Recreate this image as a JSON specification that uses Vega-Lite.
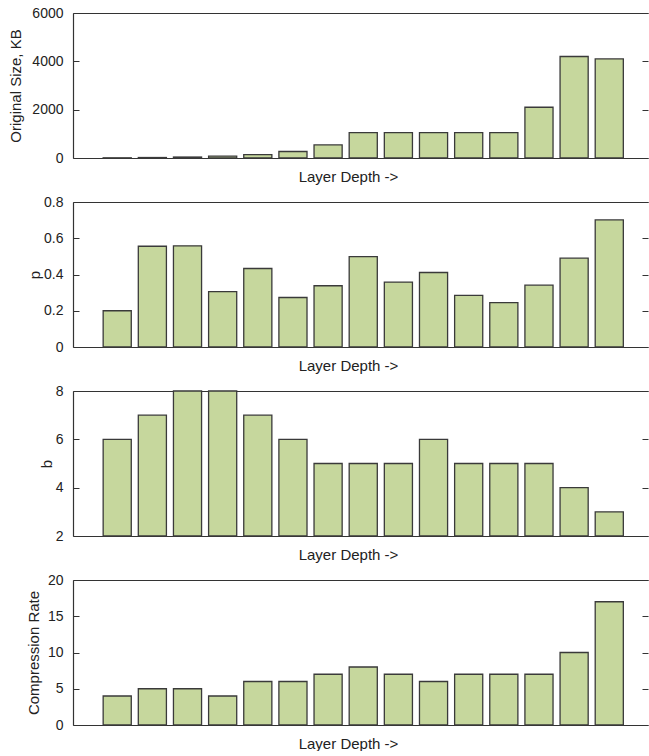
{
  "$schema": "https://vega.github.io/schema/vega-lite/v6.json",
  "padding": {"left": 8, "top": 6, "right": 0, "bottom": 0},
  "background": "white",
  "spacing": 11,
  "config": {
    "font": "Liberation Sans",
    "view": {"stroke": null},
    "axis": {
      "labelFont": "Liberation Sans",
      "titleFont": "Liberation Sans",
      "labelFontSize": 14,
      "titleFontSize": 15,
      "titleFontWeight": "normal",
      "labelColor": "#222222",
      "titleColor": "#222222",
      "domainColor": "#333333",
      "tickColor": "#333333",
      "domainWidth": 1.2,
      "tickWidth": 1,
      "grid": false
    },
    "bar": {"fill": "#c6d79d", "stroke": "#3a3a3a", "strokeWidth": 1.3}
  },
  "datasets": {
    "layers": [
      {"layer": 1, "size": 8, "p": 0.2, "b": 6, "rate": 4},
      {"layer": 2, "size": 20, "p": 0.556, "b": 7, "rate": 5},
      {"layer": 3, "size": 40, "p": 0.558, "b": 8, "rate": 5},
      {"layer": 4, "size": 75, "p": 0.305, "b": 8, "rate": 4},
      {"layer": 5, "size": 140, "p": 0.433, "b": 7, "rate": 6},
      {"layer": 6, "size": 270, "p": 0.273, "b": 6, "rate": 6},
      {"layer": 7, "size": 540, "p": 0.338, "b": 5, "rate": 7},
      {"layer": 8, "size": 1050, "p": 0.499, "b": 5, "rate": 8},
      {"layer": 9, "size": 1050, "p": 0.358, "b": 5, "rate": 7},
      {"layer": 10, "size": 1050, "p": 0.411, "b": 6, "rate": 6},
      {"layer": 11, "size": 1050, "p": 0.285, "b": 5, "rate": 7},
      {"layer": 12, "size": 1050, "p": 0.245, "b": 5, "rate": 7},
      {"layer": 13, "size": 2100, "p": 0.341, "b": 5, "rate": 7},
      {"layer": 14, "size": 4200, "p": 0.49, "b": 4, "rate": 10},
      {"layer": 15, "size": 4100, "p": 0.701, "b": 3, "rate": 17}
    ]
  },
  "vconcat": [
    {
      "width": 575,
      "height": 145,
      "data": {"name": "layers"},
      "layer": [
        {
          "mark": {"type": "bar"},
          "encoding": {
            "x": {"field": "layer", "type": "ordinal",
              "scale": {"paddingInner": 0.2, "paddingOuter": 0.78, "align": 0.55},
              "axis": {"orient": "bottom", "labels": false, "ticks": false, "title": "Layer Depth ->", "titlePadding": 11, "titleX": 275}},
            "y": {"field": "size", "type": "quantitative",
              "scale": {"domain": [0, 6000], "nice": false},
              "axis": {"orient": "left", "values": [0, 2000, 4000, 6000], "format": "d", "tickSize": -6, "labelPadding": 16, "titlePadding": 8, "title": "Original Size, KB"}}
          }
        },
        {
          "mark": {"type": "bar", "opacity": 0, "strokeOpacity": 0},
          "encoding": {
            "x": {"field": "layer", "type": "ordinal",
              "axis": {"orient": "top", "labels": false, "ticks": false, "title": null}},
            "y": {"field": "size", "type": "quantitative",
              "axis": {"orient": "right", "values": [0, 2000, 4000, 6000], "labels": false, "domain": false, "tickSize": -6, "title": null}}
          }
        }
      ],
      "resolve": {"axis": {"x": "independent", "y": "independent"}}
    },
    {
      "width": 575,
      "height": 145,
      "data": {"name": "layers"},
      "layer": [
        {
          "mark": {"type": "bar"},
          "encoding": {
            "x": {"field": "layer", "type": "ordinal",
              "scale": {"paddingInner": 0.2, "paddingOuter": 0.78, "align": 0.55},
              "axis": {"orient": "bottom", "labels": false, "ticks": false, "title": "Layer Depth ->", "titlePadding": 11, "titleX": 275}},
            "y": {"field": "p", "type": "quantitative",
              "scale": {"domain": [0, 0.8], "nice": false},
              "axis": {"orient": "left", "values": [0, 0.2, 0.4, 0.6, 0.8], "format": "~g", "tickSize": -6, "labelPadding": 16, "titlePadding": 1, "title": "p"}}
          }
        },
        {
          "mark": {"type": "bar", "opacity": 0, "strokeOpacity": 0},
          "encoding": {
            "x": {"field": "layer", "type": "ordinal",
              "axis": {"orient": "top", "labels": false, "ticks": false, "title": null}},
            "y": {"field": "p", "type": "quantitative",
              "axis": {"orient": "right", "values": [0, 0.2, 0.4, 0.6, 0.8], "labels": false, "domain": false, "tickSize": -6, "title": null}}
          }
        }
      ],
      "resolve": {"axis": {"x": "independent", "y": "independent"}}
    },
    {
      "width": 575,
      "height": 145,
      "data": {"name": "layers"},
      "layer": [
        {
          "mark": {"type": "bar"},
          "encoding": {
            "x": {"field": "layer", "type": "ordinal",
              "scale": {"paddingInner": 0.2, "paddingOuter": 0.78, "align": 0.55},
              "axis": {"orient": "bottom", "labels": false, "ticks": false, "title": "Layer Depth ->", "titlePadding": 11, "titleX": 275}},
            "y": {"field": "b", "type": "quantitative",
              "scale": {"domain": [2, 8], "nice": false, "zero": false},
              "axis": {"orient": "left", "values": [2, 4, 6, 8], "format": "d", "tickSize": -6, "labelPadding": 16, "titlePadding": 1, "title": "b"}},
            "y2": {"datum": 2}
          }
        },
        {
          "mark": {"type": "bar", "opacity": 0, "strokeOpacity": 0},
          "encoding": {
            "x": {"field": "layer", "type": "ordinal",
              "axis": {"orient": "top", "labels": false, "ticks": false, "title": null}},
            "y": {"field": "b", "type": "quantitative",
              "axis": {"orient": "right", "values": [2, 4, 6, 8], "labels": false, "domain": false, "tickSize": -6, "title": null}},
            "y2": {"datum": 2}
          }
        }
      ],
      "resolve": {"axis": {"x": "independent", "y": "independent"}}
    },
    {
      "width": 575,
      "height": 145,
      "data": {"name": "layers"},
      "layer": [
        {
          "mark": {"type": "bar"},
          "encoding": {
            "x": {"field": "layer", "type": "ordinal",
              "scale": {"paddingInner": 0.2, "paddingOuter": 0.78, "align": 0.55},
              "axis": {"orient": "bottom", "labels": false, "ticks": false, "title": "Layer Depth ->", "titlePadding": 11, "titleX": 275}},
            "y": {"field": "rate", "type": "quantitative",
              "scale": {"domain": [0, 20], "nice": false},
              "axis": {"orient": "left", "values": [0, 5, 10, 15, 20], "format": "d", "tickSize": -6, "labelPadding": 16, "titlePadding": 6, "title": "Compression Rate"}}
          }
        },
        {
          "mark": {"type": "bar", "opacity": 0, "strokeOpacity": 0},
          "encoding": {
            "x": {"field": "layer", "type": "ordinal",
              "axis": {"orient": "top", "labels": false, "ticks": false, "title": null}},
            "y": {"field": "rate", "type": "quantitative",
              "axis": {"orient": "right", "values": [0, 5, 10, 15, 20], "labels": false, "domain": false, "tickSize": -6, "title": null}}
          }
        }
      ],
      "resolve": {"axis": {"x": "independent", "y": "independent"}}
    }
  ]
}
